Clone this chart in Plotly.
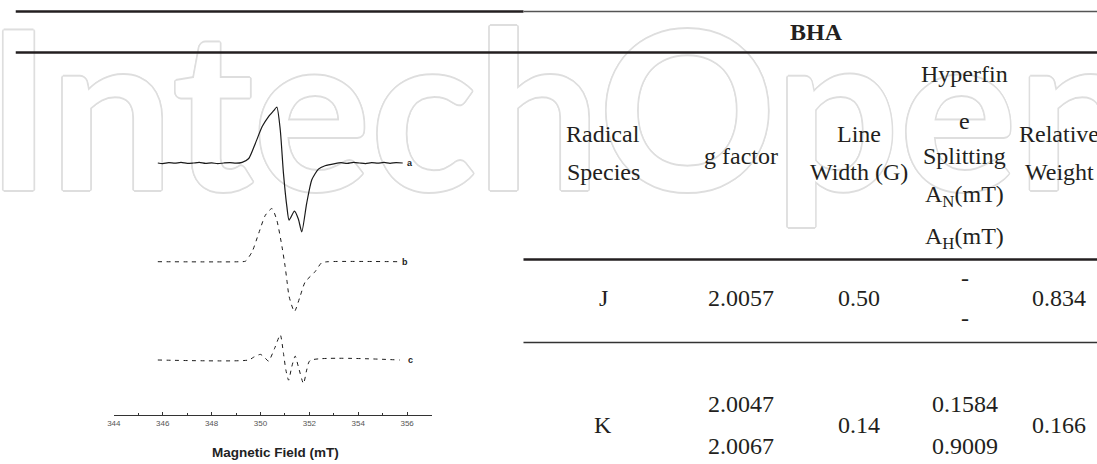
import plotly.graph_objects as go

W, H = 1097, 464

# ---------------------------------------------------------------------------
# EPR spectra: magnetic field (mT) and first-derivative intensity (a.u.)
# a = experimental, b = simulated species J, c = simulated species K
# ---------------------------------------------------------------------------
field_exp = [345.8, 346.0, 346.25, 346.5, 346.75, 347.0, 347.25, 347.5, 347.75,
             348.0, 348.25, 348.5, 348.75, 349.0, 349.25, 349.52, 349.79, 350.07,
             350.33, 350.55, 350.67, 350.81, 350.94, 351.08, 351.17, 351.39,
             351.55, 351.69, 351.89, 352.1, 352.37, 352.64, 353.05, 353.3,
             353.55, 353.8, 354.05, 354.3, 354.55, 354.8, 355.05, 355.3,
             355.55, 355.82]
signal_exp = [0.0, -0.01, 0.006, -0.004, 0.012, -0.006, 0.0, 0.01, -0.008,
              0.004, -0.012, 0.0, 0.008, -0.004, 0.012, 0.08, 0.35, 0.65,
              0.83, 0.94, 1.0, 0.59, -0.18, -0.78, -1.02, -0.86,
              -1.0, -1.23, -0.72, -0.3, -0.11, -0.05, -0.01, 0.006,
              -0.008, 0.01, 0.0, -0.01, 0.006, -0.004, 0.01, -0.006,
              0.008, 0.0]

field_j = [345.8, 349.2, 349.39, 349.66, 349.93, 350.2, 350.47, 350.67, 350.88,
           351.01, 351.08, 351.17, 351.39, 351.62, 351.83, 352.23, 352.5,
           352.77, 355.7]
signal_j = [0.0, 0.0, 0.01, 0.18, 0.51, 0.83, 0.95, 0.74, 0.27,
            -0.09, -0.33, -0.62, -0.89, -0.62, -0.36, -0.18, -0.02,
            0.0, 0.0]

field_k = [345.8, 349.52, 349.72, 350.0, 350.2, 350.33, 350.58, 350.81, 350.94,
           351.04, 351.15, 351.28, 351.42, 351.55, 351.76, 351.89, 352.03, 355.7]
signal_k = [0.0, 0.0, 0.05, 0.1, 0.03, -0.02, 0.21, 0.45, 0.12,
            -0.18, -0.36, -0.12, 0.07, -0.12, -0.42, -0.18, -0.01, 0.0]

trace_labels = ["a", "b", "c"]
field_range = [344, 357]
axis_title = "Magnetic Field (mT)"

# ---------------------------------------------------------------------------
# Table of fitted parameters
# ---------------------------------------------------------------------------
table_title = "BHA"
header_lines = [
    ["Radical", "Species"],
    ["g factor"],
    ["Line", "Width (G)"],
    ["Hyperfin", "e", "Splitting", "A<sub>N</sub>(mT)", "A<sub>H</sub>(mT)"],
    ["Relative", "Weight"],
]
species = ["J", "K"]
g_factor = [["2.0057"], ["2.0047", "2.0067"]]
line_width = ["0.50", "0.14"]
hyperfine = [["-", "-"], ["0.1584", "0.9009"]]
relative_weight = ["0.834", "0.166"]

watermark = "IntechOpen"

# ---------------------------------------------------------------------------
# Layout geometry (pixels)
# ---------------------------------------------------------------------------
PX_PER_MT = 24.6
AXIS_LEFT = 107.5
AXIS_Y = 415
PX_PER_UNIT = 56
Y_HALF = 1.5
baselines = [163, 261.7, 360]
label_x = [356.1, 355.9, 356.15]

col_x = [600, 739, 857, 964, 1059]
header_y = [[134.5, 172], [155.5], [134.5, 172],
            [73.5, 120.5, 155.5, 195.5, 237.5], [134.5, 172]]
row_single_y = [298, 425]
row_double_y = [[278, 318], [404, 446]]

SERIF = "Liberation Serif, Times New Roman, serif"
SANS = "Liberation Sans, Arial, sans-serif"
INK = "#231f20"


def px(x):
    return x / W


def py(y):
    return 1 - y / H


fig = go.Figure()

# Outlined watermark lettering, drawn first so everything sits on top of it
ring = "#dedede"
d = 1.7
shadow = ", ".join(f"{dx:.2f}px {dy:.2f}px 0 {ring}" for dx, dy in
                   [(d, 0), (-d, 0), (0, d), (0, -d),
                    (d * 0.7, d * 0.7), (-d * 0.7, d * 0.7),
                    (d * 0.7, -d * 0.7), (-d * 0.7, -d * 0.7)])
fig.add_trace(go.Scatter(
    x=[560], y=[135], mode="text", text=[watermark],
    textposition="middle center", cliponaxis=False, hoverinfo="skip",
    textfont=dict(family="Lato, sans-serif", size=220, color="white",
                  weight="bold", shadow=shadow),
    xaxis="x", yaxis="y", showlegend=False,
))

fields = [field_exp, field_j, field_k]
signals = [signal_exp, signal_j, signal_k]
dashes = ["solid", "4px,4.5px", "4px,4.5px"]
widths = [1.2, 1.0, 1.0]
yids = ["y2", "y3", "y4"]
for f, s, dsh, lw, yid in zip(fields, signals, dashes, widths, yids):
    fig.add_trace(go.Scatter(
        x=f, y=s, mode="lines", xaxis="x2", yaxis=yid,
        line=dict(color="#1a1a1a", width=lw, dash=dsh, shape="spline",
                  smoothing=0.6),
        showlegend=False, hoverinfo="skip",
    ))

layout = dict(
    width=W, height=H,
    margin=dict(l=0, r=0, t=0, b=0),
    paper_bgcolor="white", plot_bgcolor="rgba(0,0,0,0)",
    showlegend=False,
    xaxis=dict(domain=[0, 1], range=[0, W], visible=False, fixedrange=True),
    yaxis=dict(domain=[0, 1], range=[H, 0], visible=False, fixedrange=True),
    xaxis2=dict(
        domain=[px(AXIS_LEFT), px(AXIS_LEFT + PX_PER_MT * (field_range[1] - field_range[0]))],
        range=field_range, anchor="free", position=(H - AXIS_Y) / H,
        showline=True, linecolor="#333", linewidth=1,
        ticks="inside", ticklen=3, tickwidth=0.8, tickcolor="#333",
        tick0=344, dtick=2,
        minor=dict(dtick=1, ticks="inside", ticklen=2, tickcolor="#333"),
        tickfont=dict(family="Liberation Sans Narrow, " + SANS, size=8, color="#555"),
        showgrid=False, zeroline=False,
    ),
)
for yid, base in zip(yids, baselines):
    key = "yaxis" + yid[1:]
    lo = (H - (base + Y_HALF * PX_PER_UNIT)) / H
    hi = (H - (base - Y_HALF * PX_PER_UNIT)) / H
    layout[key] = dict(domain=[lo, hi], range=[-Y_HALF, Y_HALF], anchor="x2",
                       visible=False)
fig.update_layout(**layout)

annotations = []
for lab, xl, yid in zip(trace_labels, label_x, yids):
    annotations.append(dict(x=xl, y=0, xref="x2", yref=yid, text=lab,
                            showarrow=False, xanchor="center", yanchor="middle",
                            font=dict(family=SANS, size=9, color="#222", weight="bold")))
annotations.append(dict(x=px(270), y=py(452), xref="paper", yref="paper",
                        text=axis_title, showarrow=False,
                        xanchor="center", yanchor="middle",
                        font=dict(family=SANS, size=13.5, color="#222", weight="bold")))


def cell(text, x, y, bold=False):
    annotations.append(dict(x=px(x), y=py(y), xref="paper", yref="paper",
                            text=text, showarrow=False,
                            xanchor="center", yanchor="middle",
                            font=dict(family=SERIF, size=24, color=INK,
                                      weight="bold" if bold else "normal")))


cell(table_title, 815, 31.5, bold=True)
for lines, ys, cx in zip(header_lines, header_y, col_x):
    for t, yy in zip(lines, ys):
        cell(t, cx, yy)

for r in range(len(species)):
    cell(species[r], col_x[0], row_single_y[r])
    gl = g_factor[r]
    if len(gl) == 1:
        cell(gl[0], col_x[1], row_single_y[r])
    else:
        for t, yy in zip(gl, row_double_y[r]):
            cell(t, col_x[1], yy)
    cell(line_width[r], col_x[2], row_single_y[r])
    for t, yy in zip(hyperfine[r], row_double_y[r]):
        cell(t, col_x[3], yy)
    cell(relative_weight[r], col_x[4], row_single_y[r])

fig.update_layout(annotations=annotations)

# Table rules
rules = [
    (8.8, 519.8, 11.5, 2.7, INK),
    (519.8, W, 11.5, 1.5, "#555"),
    (8.8, W, 52.5, 2.6, INK),
    (519.8, W, 259.5, 2.6, INK),
    (519.8, W, 342.5, 1.3, "#333"),
]
shapes = []
for x0, x1, yy, lw, c in rules:
    shapes.append(dict(type="line", xref="paper", yref="paper",
                       x0=px(x0), x1=px(x1), y0=py(yy), y1=py(yy),
                       line=dict(color=c, width=lw), layer="above"))
fig.update_layout(shapes=shapes)

fig.write_html("out.html")
